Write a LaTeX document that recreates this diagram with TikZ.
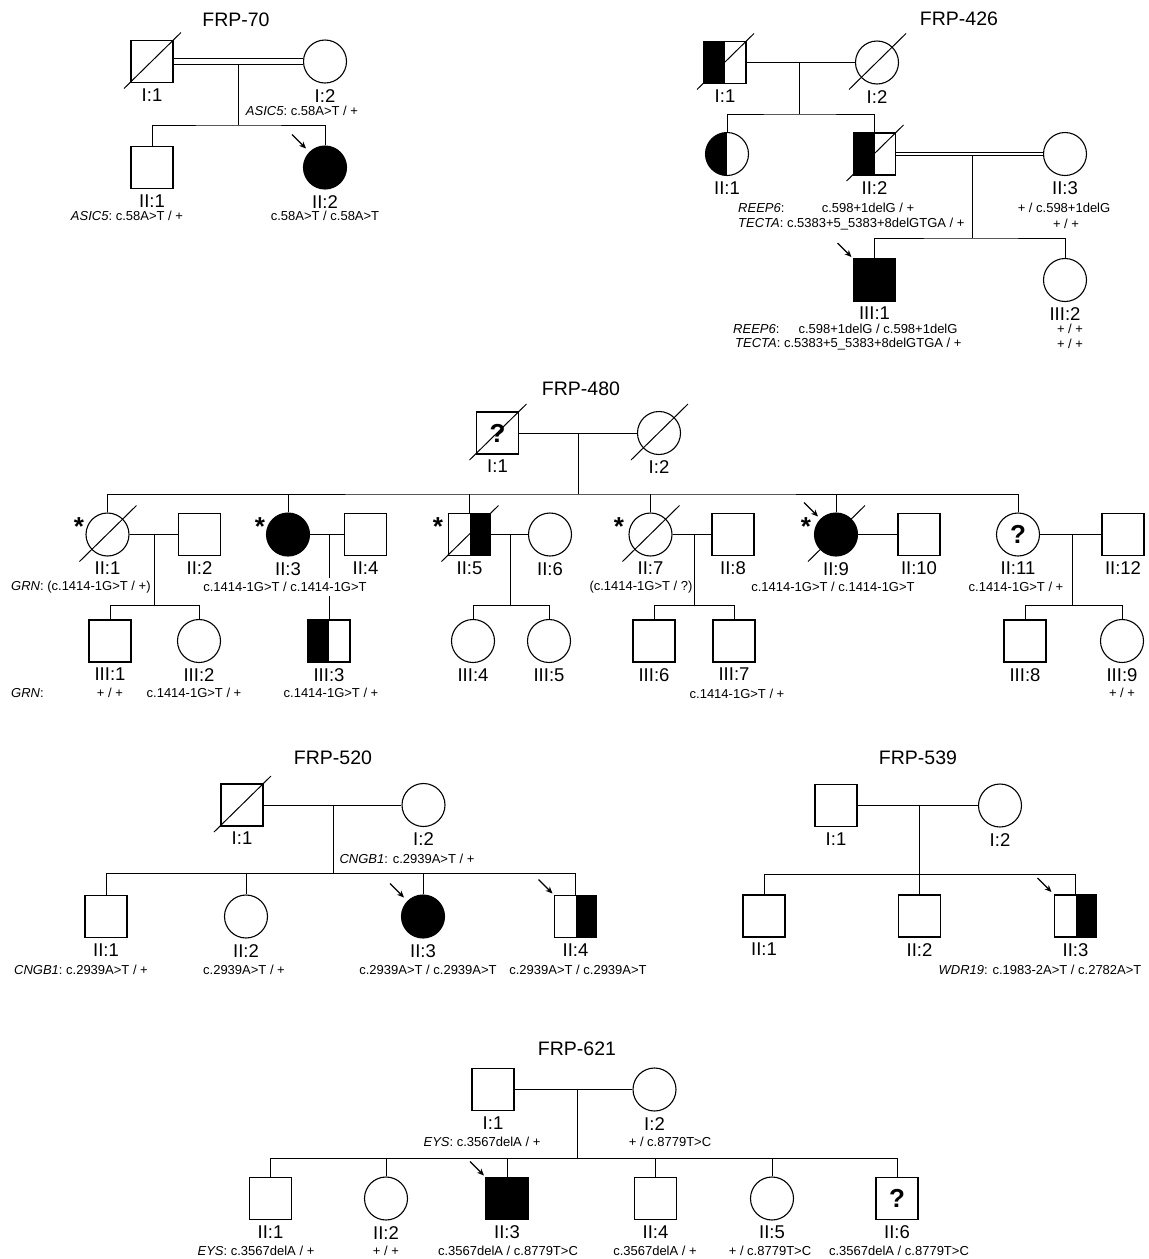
\documentclass[tikz,border=0pt]{standalone}
\usepackage{fontspec}
\setmainfont{Liberation Sans}
\usetikzlibrary{arrows.meta}

% deceased bar and proband arrow, placed round a symbol
\newcommand{\dead}[1]{\draw[symline] ([shift={(-28,27)}]#1.center) -- ([shift={(29,-29)}]#1.center);}
\newcommand{\proband}[2]{\draw[pointer] ([shift={(-#2-14,-#2-14)}]#1.center) -- ([shift={(-#2,-#2)}]#1.center);}

\begin{document}
\begin{tikzpicture}[x=1pt,y=-1pt,
  symline/.style={line width=1pt},
  link/.style={line width=.9pt},
  consang/.style={line width=.9pt,double,double distance=#1},
  pointer/.style={line width=1.1pt,-{Stealth[length=7pt,width=6pt]}},
  male/.style={draw,line width=1.1pt,rectangle,minimum size=42pt,inner sep=0pt,fill=white},
  female/.style={draw,line width=1.1pt,circle,minimum size=43pt,inner sep=0pt,fill=white},
  affected/.style={fill=black},
  lefthalf/.style={path picture={\fill[black] (path picture bounding box.south west) rectangle (path picture bounding box.north);}},
  righthalf/.style={path picture={\fill[black] (path picture bounding box.south) rectangle (path picture bounding box.north east);}},
  unknown/.style={font=\fontsize{26}{26}\selectfont\bfseries},
  idlabel/.style={font=\fontsize{18.5}{18.5}\selectfont,inner sep=0pt,draw=none,fill=none,yshift=-5.5pt},
  id/.style={label={[idlabel]below:{#1}}},
  title/.style={font=\fontsize{19.5}{19.5}\selectfont,inner sep=0pt},
  geno/.style={font=\fontsize{13}{13}\selectfont,inner sep=0pt},
  star/.style={font=\fontsize{26}{26}\selectfont\bfseries,inner sep=0pt,anchor=north}]
\useasboundingbox (0,0) rectangle (1149,1259);

% FRP-70
\node[title] (F70) at (236,20) {FRP-70};
\node[male,id={I:1}] (F70-I1) at (152,61.5) {};
\node[female,id={I:2}] (F70-I2) at (325,61.5) {};
\node[male,id={II:1}] (F70-II1) at (152,167.5) {};
\node[female,affected,id={II:2}] (F70-II2) at (325,167.5) {};
\dead{F70-I1}
\coordinate (F70-m) at (238,61.5);
\coordinate (F70-s) at (238,125);
\draw[link] (F70-m) -- (F70-s);
\draw[consang=5pt] (F70-I1) -- (F70-I2);
\draw[link] (F70-II1) |- (F70-s) -| (F70-II2);
\proband{F70-II2}{19}
\node[geno] (F70-g1) at (302,111) {\textit{ASIC5}:\ c.58A>T / +};
\node[geno] (F70-g2) at (127,215.5) {\textit{ASIC5}:\ c.58A>T / +};
\node[geno] (F70-g3) at (325,215.5) {c.58A>T / c.58A>T};

% FRP-426
\node[title] (F426) at (959,19) {FRP-426};
\node[male,lefthalf,id={I:1}] (F426-I1) at (725,62.5) {};
\node[female,id={I:2}] (F426-I2) at (877,62.5) {};
\node[female,lefthalf,id={II:1}] (F426-II1) at (727,154) {};
\node[male,lefthalf,id={II:2}] (F426-II2) at (874.5,154) {};
\node[female,id={II:3}] (F426-II3) at (1065,154) {};
\node[male,affected,id={III:1}] (F426-III1) at (874.5,280) {};
\node[female,id={III:2}] (F426-III2) at (1065,280) {};
\dead{F426-I1}
\dead{F426-I2}
\dead{F426-II2}
\coordinate (F426-m1) at (799,62.5);
\coordinate (F426-s1) at (799,114);
\coordinate (F426-m2) at (972,154);
\coordinate (F426-s2) at (972,238);
\draw[link] (F426-I1) -- (F426-I2);
\draw[link] (F426-m1) -- (F426-s1);
\draw[link] (F426-II1) |- (F426-s1) -| (F426-II2);
\draw[link] (F426-m2) -- (F426-s2);
\draw[consang=2.4pt] (F426-II2) -- (F426-II3);
\draw[link] (F426-III1) |- (F426-s2) -| (F426-III2);
\proband{F426-III1}{23}
\node[geno,anchor=west] (F426-g1) at (738,208) {\textit{REEP6}:};
\node[geno] (F426-g2) at (868,208) {c.598+1delG / +};
\node[geno,anchor=west] (F426-g3) at (738,224) {\textit{TECTA}: c.5383+5\_5383+8delGTGA / +};
\node[geno] (F426-g4) at (1064,208) {+ / c.598+1delG};
\node[geno] (F426-g5) at (1066,224) {+ / +};
\node[geno,anchor=west] (F426-g6) at (733,329) {\textit{REEP6}:};
\node[geno] (F426-g7) at (878,329) {c.598+1delG / c.598+1delG};
\node[geno,anchor=west] (F426-g8) at (735,344) {\textit{TECTA}: c.5383+5\_5383+8delGTGA / +};
\node[geno] (F426-g9) at (1070,329) {+ / +};
\node[geno] (F426-g10) at (1070,344) {+ / +};

% FRP-480
\node[title] (F480) at (581,389) {FRP-480};
\node[male,unknown,id={I:1}] (F480-I1) at (497.5,433) {?};
\node[female,id={I:2}] (F480-I2) at (659,433) {};
\node[female,id={II:1}] (F480-II1) at (107.5,534.5) {};
\node[male,id={II:2}] (F480-II2) at (199.5,534.5) {};
\node[female,affected,id={II:3}] (F480-II3) at (288,534.5) {};
\node[male,id={II:4}] (F480-II4) at (365.5,534.5) {};
\node[male,righthalf,id={II:5}] (F480-II5) at (469.5,534.5) {};
\node[female,id={II:6}] (F480-II6) at (550,534.5) {};
\node[female,id={II:7}] (F480-II7) at (650.5,534.5) {};
\node[male,id={II:8}] (F480-II8) at (733,534.5) {};
\node[female,affected,id={II:9}] (F480-II9) at (836,534.5) {};
\node[male,id={II:10}] (F480-II10) at (919,534.5) {};
\node[female,unknown,id={II:11}] (F480-II11) at (1018,534.5) {?};
\node[male,id={II:12}] (F480-II12) at (1123,534.5) {};
\node[male,id={III:1}] (F480-III1) at (110,641) {};
\node[female,id={III:2}] (F480-III2) at (199,641) {};
\node[male,lefthalf,id={III:3}] (F480-III3) at (329,641) {};
\node[female,id={III:4}] (F480-III4) at (473,641) {};
\node[female,id={III:5}] (F480-III5) at (549,641) {};
\node[male,id={III:6}] (F480-III6) at (654,641) {};
\node[male,id={III:7}] (F480-III7) at (734,641) {};
\node[male,id={III:8}] (F480-III8) at (1025,641) {};
\node[female,id={III:9}] (F480-III9) at (1122,641) {};
\dead{F480-I1}
\dead{F480-I2}
\dead{F480-II1}
\dead{F480-II5}
\dead{F480-II7}
\dead{F480-II9}
\coordinate (F480-m) at (578,433);
\coordinate (F480-s) at (578,494);
\draw[link] (F480-I1) -- (F480-I2);
\draw[link] (F480-m) -- (F480-s);
\draw[link] (F480-II1) |- (F480-s) -| (F480-II11);
\draw[link] (F480-II3) -- (F480-II3 |- F480-s);
\draw[link] (F480-II5) -- (F480-II5 |- F480-s);
\draw[link] (F480-II7) -- (F480-II7 |- F480-s);
\draw[link] (F480-II9) -- (F480-II9 |- F480-s);
\coordinate (F480-m1) at (154,534.5);
\coordinate (F480-s1) at (154,605);
\draw[link] (F480-II1) -- (F480-II2);
\draw[link] (F480-m1) -- (F480-s1);
\draw[link] (F480-III1) |- (F480-s1) -| (F480-III2);
\coordinate (F480-m2) at (329,534.5);
\draw[link] (F480-II3) -- (F480-II4);
\draw[link] (F480-m2) -- (F480-III3);
\coordinate (F480-m3) at (510,534.5);
\coordinate (F480-s3) at (510,605);
\draw[link] (F480-II5) -- (F480-II6);
\draw[link] (F480-m3) -- (F480-s3);
\draw[link] (F480-III4) |- (F480-s3) -| (F480-III5);
\coordinate (F480-m4) at (694,534.5);
\coordinate (F480-s4) at (694,605);
\draw[link] (F480-II7) -- (F480-II8);
\draw[link] (F480-m4) -- (F480-s4);
\draw[link] (F480-III6) |- (F480-s4) -| (F480-III7);
\draw[link] (F480-II9) -- (F480-II10);
\coordinate (F480-m5) at (1072,534.5);
\coordinate (F480-s5) at (1072,605);
\draw[link] (F480-II11) -- (F480-II12);
\draw[link] (F480-m5) -- (F480-s5);
\draw[link] (F480-III8) |- (F480-s5) -| (F480-III9);
\proband{F480-II9}{18}
\node[star] (F480-st1) at (79,517) {*};
\node[star] (F480-st2) at (260,517) {*};
\node[star] (F480-st3) at (438,517) {*};
\node[star] (F480-st4) at (619,517) {*};
\node[star] (F480-st5) at (806,517) {*};
\node[geno,anchor=west] (F480-g1) at (11,587) {\textit{GRN}: (c.1414-1G>T / +)};
\node[geno,fill=white,inner ysep=4pt] (F480-g2) at (285,587) {c.1414-1G>T / c.1414-1G>T};
\node[geno] (F480-g3) at (641,587) {(c.1414-1G>T / ?)};
\node[geno] (F480-g4) at (833,587) {c.1414-1G>T / c.1414-1G>T};
\node[geno] (F480-g5) at (1016,587) {c.1414-1G>T / +};
\node[geno,anchor=west] (F480-g6) at (11,693) {\textit{GRN}:};
\node[geno] (F480-g7) at (110,693) {+ / +};
\node[geno] (F480-g8) at (194,693) {c.1414-1G>T / +};
\node[geno] (F480-g9) at (331,693) {c.1414-1G>T / +};
\node[geno] (F480-g10) at (737,694) {c.1414-1G>T / +};
\node[geno] (F480-g11) at (1122,693) {+ / +};

% FRP-520
\node[title] (F520) at (333,758) {FRP-520};
\node[male,id={I:1}] (F520-I1) at (242,805) {};
\node[female,id={I:2}] (F520-I2) at (423.5,805) {};
\node[male,id={II:1}] (F520-II1) at (106,916.5) {};
\node[female,id={II:2}] (F520-II2) at (246,916.5) {};
\node[female,affected,id={II:3}] (F520-II3) at (423,916.5) {};
\node[male,righthalf,id={II:4}] (F520-II4) at (575.5,916.5) {};
\dead{F520-I1}
\coordinate (F520-m) at (333,805);
\coordinate (F520-s) at (333,873);
\draw[link] (F520-I1) -- (F520-I2);
\draw[link] (F520-m) -- (F520-s);
\draw[link] (F520-II1) |- (F520-s) -| (F520-II4);
\draw[link] (F520-II2) -- (F520-II2 |- F520-s);
\draw[link] (F520-II3) -- (F520-II3 |- F520-s);
\proband{F520-II3}{19}
\proband{F520-II4}{23}
\node[geno] (F520-g1) at (407,859) {\textit{CNGB1}: c.2939A>T / +};
\node[geno] (F520-g2) at (81,970) {\textit{CNGB1}:\ c.2939A>T / +};
\node[geno] (F520-g3) at (244,970) {c.2939A>T / +};
\node[geno] (F520-g4) at (428,970) {c.2939A>T / c.2939A>T};
\node[geno] (F520-g5) at (578,970) {c.2939A>T / c.2939A>T};

% FRP-539
\node[title] (F539) at (918,758) {FRP-539};
\node[male,id={I:1}] (F539-I1) at (836,805.5) {};
\node[female,id={I:2}] (F539-I2) at (1000,805.5) {};
\node[male,id={II:1}] (F539-II1) at (764,916) {};
\node[male,id={II:2}] (F539-II2) at (919.5,916) {};
\node[male,righthalf,id={II:3}] (F539-II3) at (1075.5,916) {};
\coordinate (F539-m) at (919,805.5);
\coordinate (F539-s) at (919,874);
\draw[link] (F539-I1) -- (F539-I2);
\draw[link] (F539-m) -- (F539-s);
\draw[link] (F539-II1) |- (F539-s) -| (F539-II3);
\draw[link] (F539-II2) -- (F539-II2 |- F539-s);
\proband{F539-II3}{24}
\node[geno] (F539-g1) at (1040,970) {\textit{WDR19}: c.1983-2A>T / c.2782A>T};

% FRP-621
\node[title] (F621) at (577,1049) {FRP-621};
\node[male,id={I:1}] (F621-I1) at (493,1089.5) {};
\node[female,id={I:2}] (F621-I2) at (654.5,1089.5) {};
\node[male,id={II:1}] (F621-II1) at (270.5,1198.5) {};
\node[female,id={II:2}] (F621-II2) at (386,1198.5) {};
\node[male,affected,id={II:3}] (F621-II3) at (507,1198.5) {};
\node[male,id={II:4}] (F621-II4) at (655.5,1198.5) {};
\node[female,id={II:5}] (F621-II5) at (772,1198.5) {};
\node[male,unknown,id={II:6}] (F621-II6) at (897,1198.5) {?};
\coordinate (F621-m) at (577,1089.5);
\coordinate (F621-s) at (577,1158);
\draw[link] (F621-I1) -- (F621-I2);
\draw[link] (F621-m) -- (F621-s);
\draw[link] (F621-II1) |- (F621-s) -| (F621-II6);
\draw[link] (F621-II2) -- (F621-II2 |- F621-s);
\draw[link] (F621-II3) -- (F621-II3 |- F621-s);
\draw[link] (F621-II4) -- (F621-II4 |- F621-s);
\draw[link] (F621-II5) -- (F621-II5 |- F621-s);
\proband{F621-II3}{23}
\node[geno] (F621-g1) at (482,1142) {\textit{EYS}: c.3567delA / +};
\node[geno] (F621-g2) at (670,1142) {+ / c.8779T>C};
\node[geno] (F621-g3) at (256,1251) {\textit{EYS}:\ c.3567delA / +};
\node[geno] (F621-g4) at (386,1251) {+ / +};
\node[geno] (F621-g5) at (508,1251) {c.3567delA / c.8779T>C};
\node[geno] (F621-g6) at (655,1251) {c.3567delA / +};
\node[geno] (F621-g7) at (770,1251) {+ / c.8779T>C};
\node[geno] (F621-g8) at (899,1251) {c.3567delA / c.8779T>C};
\end{tikzpicture}
\end{document}
